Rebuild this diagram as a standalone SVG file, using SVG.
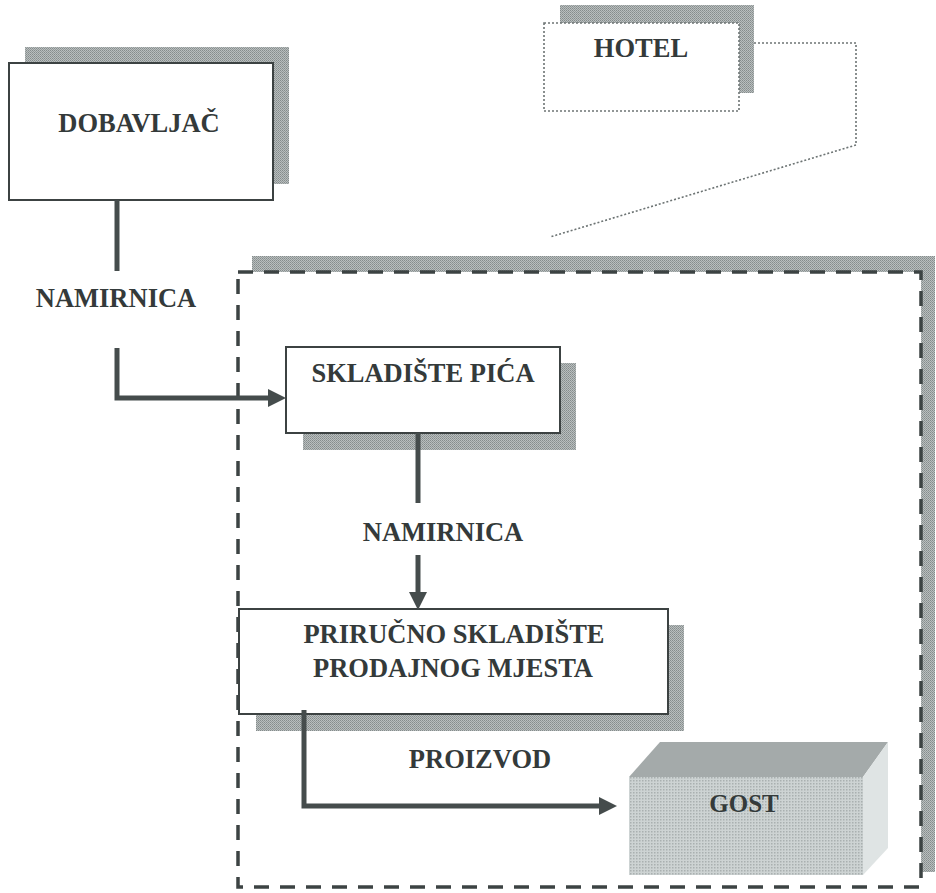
<svg xmlns="http://www.w3.org/2000/svg" width="936" height="893" viewBox="0 0 936 893">
<style>
.lbl{font-family:"Liberation Serif","Times New Roman",serif;font-weight:bold;font-size:26.5px;fill:#343a3a;text-anchor:middle}
.box{fill:#ffffff;stroke:#3c4242;stroke-width:2}
.shadow{fill:url(#halftone)}
.conn{fill:none;stroke:#454c4c;stroke-width:5;stroke-linejoin:miter}
</style>
<defs>
<pattern id="halftone" width="2" height="2" patternUnits="userSpaceOnUse">
<rect width="2" height="2" fill="#b9bebe"/>
<rect width="1" height="1" fill="#858c8c"/>
<rect x="1" y="1" width="1" height="1" fill="#939a9a"/>
</pattern>
<pattern id="lightdots" width="3" height="3" patternUnits="userSpaceOnUse">
<rect width="3" height="3" fill="#cdd3d3"/>
<rect width="1.5" height="1.5" fill="#a9b0b0"/>
</pattern>
<marker id="arrow" viewBox="0 0 18 18" refX="0" refY="9" markerWidth="18" markerHeight="18" markerUnits="userSpaceOnUse" orient="auto">
<path d="M0,0 L18,9 L0,18 z" fill="#454c4c"/>
</marker>
</defs>
<rect width="936" height="893" fill="#ffffff"/>

<g id="hotel-boundary">
<rect x="252" y="256" width="683" height="616" class="shadow"/>
<rect x="238" y="272" width="683" height="615" fill="#ffffff" stroke="#3c4343" stroke-width="3.5" stroke-dasharray="15 11"/>
</g>

<g id="hotel">
<rect x="560" y="5" width="194" height="88" class="shadow"/>
<rect x="544" y="23" width="195" height="88" fill="#ffffff" stroke="#6d7474" stroke-width="1.6" stroke-dasharray="2 2"/>
<text x="641" y="57" class="lbl">HOTEL</text>
<path d="M754,43 H856 V145 L550,237" fill="none" stroke="#6d7474" stroke-width="1.6" stroke-dasharray="2 2"/>
</g>

<g id="dobavljac">
<rect x="25" y="47" width="264" height="137" class="shadow"/>
<rect x="9" y="63" width="264" height="137" class="box"/>
<text x="139" y="132" class="lbl">DOBAVLJAČ</text>
</g>

<g id="skladiste-pica">
<rect x="303" y="363" width="273" height="87" class="shadow"/>
<rect x="286" y="347" width="274" height="86" class="box"/>
<text x="423" y="382" class="lbl">SKLADIŠTE PIĆA</text>
</g>

<g id="prirucno-skladiste">
<rect x="256" y="625" width="428" height="106" class="shadow"/>
<rect x="239" y="609" width="429" height="105" class="box"/>
<text x="454" y="643" class="lbl">PRIRUČNO SKLADIŠTE</text>
<text x="453" y="677" class="lbl">PRODAJNOG MJESTA</text>
</g>

<g id="gost">
<polygon points="629,777 660,742 888,742 863,777" fill="#a4aaaa"/>
<rect x="629" y="777" width="234" height="98" fill="url(#lightdots)"/>
<polygon points="863,777 888,742 888,848 863,875" fill="#dfe4e4"/>
<text x="744" y="812" class="lbl" style="font-size:25px">GOST</text>
</g>

<g id="connectors">
<path d="M117,200 V271" class="conn"/>
<path d="M117,348 V398 H268" class="conn" marker-end="url(#arrow)"/>
<text x="116" y="307" class="lbl">NAMIRNICA</text>
<path d="M418,433 V503" class="conn"/>
<path d="M418,555 V592" class="conn" marker-end="url(#arrow)"/>
<text x="443" y="541" class="lbl">NAMIRNICA</text>
<path d="M304,710 V806 H599" class="conn" marker-end="url(#arrow)"/>
<text x="480" y="768" class="lbl">PROIZVOD</text>
</g>
</svg>
